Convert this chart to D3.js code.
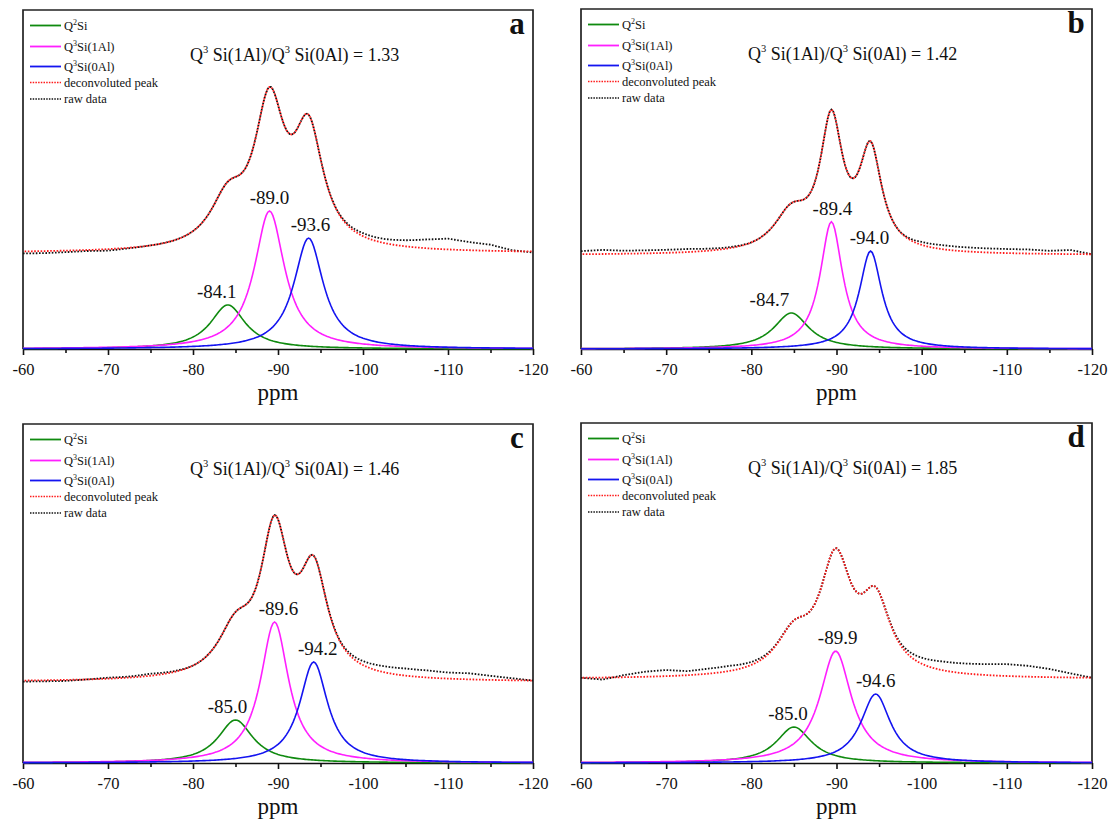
<!DOCTYPE html>
<html>
<head>
<meta charset="utf-8">
<script src="https://cdn.jsdelivr.net/npm/d3@7"></script>
<style>
	body { margin: 0; background: #fff; }
	svg { display: block; font-family: "Liberation Serif", "Times New Roman", serif; }
</style>
</head>
<body>
<div id="chart"></div>
<script>
"use strict";

// --- data (intensity in % of panel height) ---
const panelNames = ["a", "b", "c", "d"];
const ratioValues = ["1.33", "1.42", "1.46", "1.85"];

// Q2Si, Q3Si(1Al), Q3Si(0Al)
const peakCenters = [
	[-84.1, -89.0, -93.6],
	[-84.7, -89.4, -94.0],
	[-85.0, -89.6, -94.2],
	[-85.0, -89.9, -94.6]
];
const peakHeights = [
	[13.0, 40.7, 32.7],
	[10.6, 37.4, 28.8],
	[12.7, 41.6, 29.8],
	[10.6, 32.9, 20.3]
];
const peakFwhm = [
	[5.0, 4.3, 4.2],
	[5.0, 3.2, 3.2],
	[5.0, 4.0, 4.0],
	[5.0, 4.5, 4.2]
];
const baselines = [28.3, 27.6, 23.9, 24.7];

// raw data minus deconvoluted peak, every 2.5 ppm from -60 to -120
const residualPpm = [-60, -62.5, -65, -67.5, -70, -72.5, -75, -77.5, -80, -82.5, -85, -87.5, -90,
	-92.5, -95, -97.5, -100, -102.5, -105, -107.5, -110, -112.5, -115, -117.5, -120];
const rawResiduals = [
	[-0.6, -0.6, -0.45, -0.3, -0.45, -0.15, 0, 0, 0, 0, 0, 0, 0, 0, 0, 0.3, 0.9, 1.2, 1.8, 2.6, 3.2, 2.4, 1.8, 0.3, -0.3],
	[0.9, 1.2, 0.9, 0.9, 0.9, 0.9, 0.6, 0.3, 0, 0, 0, 0, 0, 0, 0, 0, 0.9, 1.2, 1.2, 1.2, 1.2, 1.2, 0.9, 1.2, 0],
	[-0.3, -0.3, -0.3, 0, 0.3, 0.3, 0.6, 0.3, 0, 0, 0, 0, 0, 0, 0, 0.3, 1.2, 1.8, 2.1, 2.1, 1.8, 1.8, 1.2, 0.6, 0],
	[0, -0.6, 0.6, 1.5, 1.8, 1.2, 1.5, 1.5, 0.9, 0.3, 0, 0, 0, 0, 0, 0.6, 1.8, 2.6, 2.9, 3.2, 3.5, 3.2, 2.4, 1.2, 0]
];

const xMajorTicks = [-60, -70, -80, -90, -100, -110, -120];
const xMinorTicks = [-65, -75, -85, -95, -105, -115];

// --- layout ---
const WIDTH = 1115, HEIGHT = 822;
const FONT = "'Liberation Serif', 'Times New Roman', serif";
const FRAMES = [
	{ x0: 23, x1: 533, y0: 10, y1: 349 },
	{ x0: 581, x1: 1092, y0: 9, y1: 349 },
	{ x0: 23, x1: 533, y0: 424, y1: 763 },
	{ x0: 581, x1: 1092, y0: 423, y1: 763 }
];
const LABEL_DX = [[-11, 0, 2], [-22, 1, -1], [-8, 4, 4], [-6, 2, 0]];
const COLORS = { q2: "#0f8a0f", q1: "#ff1fff", q0: "#1414f0", fit: "#ff1a1a", raw: "#111" };
const compColors = [COLORS.q2, COLORS.q1, COLORS.q0];

const legendItems = [
	{ pre: "Q", sup: "2", post: "Si", color: COLORS.q2, dotted: false, dy: 15.5 },
	{ pre: "Q", sup: "3", post: "Si(1Al)", color: COLORS.q1, dotted: false, dy: 36.5 },
	{ pre: "Q", sup: "3", post: "Si(0Al)", color: COLORS.q0, dotted: false, dy: 56.5 },
	{ pre: "deconvoluted peak", sup: "", post: "", color: COLORS.fit, dotted: true, dy: 72.5 },
	{ pre: "raw data", sup: "", post: "", color: COLORS.raw, dotted: true, dy: 89 }
];

const svg = d3.select("#chart").append("svg")
	.attr("width", WIDTH)
	.attr("height", HEIGHT)
	.attr("font-family", FONT);

const samples = d3.range(-60, -120.0001, -0.2);

function lorentz(p, c, h, w) {
	const t = (p - c) / (w / 2);
	return h / (1 + t * t);
}

FRAMES.forEach((f, i) => {
	const g = svg.append("g");
	const x = d3.scaleLinear().domain([-60, -120]).range([f.x0, f.x1]);
	const y = d3.scaleLinear().domain([0, 100]).range([f.y1, f.y0]);
	const resid = d3.scaleLinear().domain(residualPpm).range(rawResiduals[i]);

	const comp = k => p => lorentz(p, peakCenters[i][k], peakHeights[i][k], peakFwhm[i][k]);
	const fit = p => baselines[i] + d3.sum([0, 1, 2], k => comp(k)(p));

	// frame (top, left, right)
	g.append("path")
		.attr("d", `M${f.x0},${f.y1}V${f.y0}H${f.x1}V${f.y1}`)
		.attr("fill", "none")
		.attr("stroke", "#222")
		.attr("stroke-width", 1.7);

	// x axis
	const ax = g.append("g")
		.attr("transform", `translate(0,${f.y1})`)
		.call(d3.axisBottom(x).tickValues(xMajorTicks).tickSize(6).tickSizeOuter(0).tickPadding(8)
			.tickFormat(d => String(d)));
	ax.attr("font-family", FONT);
	ax.select(".domain").attr("stroke", "#111").attr("stroke-width", 1.7);
	ax.selectAll(".tick line").attr("stroke", "#111").attr("stroke-width", 1.6);
	ax.selectAll(".tick text")
		.attr("fill", "#111")
		.style("font-size", "16.5px");

	const axm = g.append("g")
		.attr("transform", `translate(0,${f.y1})`)
		.call(d3.axisBottom(x).tickValues(xMinorTicks).tickSize(4).tickSizeOuter(0).tickFormat(""));
	axm.select(".domain").remove();
	axm.selectAll(".tick line").attr("stroke", "#111").attr("stroke-width", 1.6);

	g.append("text")
		.attr("x", (f.x0 + f.x1) / 2)
		.attr("y", f.y1 + 51)
		.attr("text-anchor", "middle")
		.style("font-size", "23px")
		.attr("fill", "#111")
		.text("ppm");

	const line = fn => d3.line()
		.x(p => x(p))
		.y(p => y(fn(p)))(samples);

	// raw data + deconvoluted peak (dotted)
	g.append("path")
		.attr("d", line(p => fit(p) + resid(p)))
		.attr("fill", "none")
		.attr("stroke", COLORS.raw)
		.attr("stroke-width", 1.8)
		.attr("stroke-dasharray", "1.6,1.6");
	g.append("path")
		.attr("d", line(fit))
		.attr("fill", "none")
		.attr("stroke", COLORS.fit)
		.attr("stroke-width", 1.8)
		.attr("stroke-dasharray", "1.6,1.6")
		.attr("stroke-dashoffset", 1.6);

	// component peaks
	[0, 1, 2].forEach(k => {
		g.append("path")
			.attr("d", line(comp(k)))
			.attr("fill", "none")
			.attr("stroke", compColors[k])
			.attr("stroke-width", 1.6);
		g.append("text")
			.attr("x", x(peakCenters[i][k]) + LABEL_DX[i][k])
			.attr("y", y(peakHeights[i][k]) - 7)
			.attr("text-anchor", "middle")
			.style("font-size", "19px")
			.attr("fill", "#111")
			.text(peakCenters[i][k].toFixed(1));
	});

	// legend
	legendItems.forEach(it => {
		const ly = f.y0 + it.dy;
		g.append("line")
			.attr("x1", f.x0 + 7).attr("x2", f.x0 + 38)
			.attr("y1", ly).attr("y2", ly)
			.attr("stroke", it.color)
			.attr("stroke-width", it.dotted ? 1.6 : 1.8)
			.attr("stroke-dasharray", it.dotted ? "1.5,1.2" : null);
		const t = g.append("text")
			.attr("x", f.x0 + 41)
			.attr("y", ly + 4)
			.style("font-size", "12.5px")
			.attr("fill", "#111");
		t.append("tspan").text(it.pre);
		if (it.sup) {
			t.append("tspan").attr("dy", -5).style("font-size", "8px").text(it.sup);
			t.append("tspan").attr("dy", 5).text(it.post);
		}
	});

	// ratio text
	const r = g.append("text")
		.attr("x", f.x0 + 167)
		.attr("y", f.y0 + 51)
		.style("font-size", "18px")
		.attr("fill", "#111");
	r.append("tspan").text("Q");
	r.append("tspan").attr("dy", -8).style("font-size", "10.5px").text("3");
	r.append("tspan").attr("dy", 8).text(" Si(1Al)/Q");
	r.append("tspan").attr("dy", -8).style("font-size", "10.5px").text("3");
	r.append("tspan").attr("dy", 8).text(` Si(0Al) = ${ratioValues[i]}`);

	// panel letter
	g.append("text")
		.attr("x", f.x1 - 16)
		.attr("y", f.y0 + 24)
		.attr("text-anchor", "middle")
		.style("font-size", "31px")
		.style("font-weight", "bold")
		.attr("fill", "#111")
		.text(panelNames[i]);
});
</script>
</body>
</html>
